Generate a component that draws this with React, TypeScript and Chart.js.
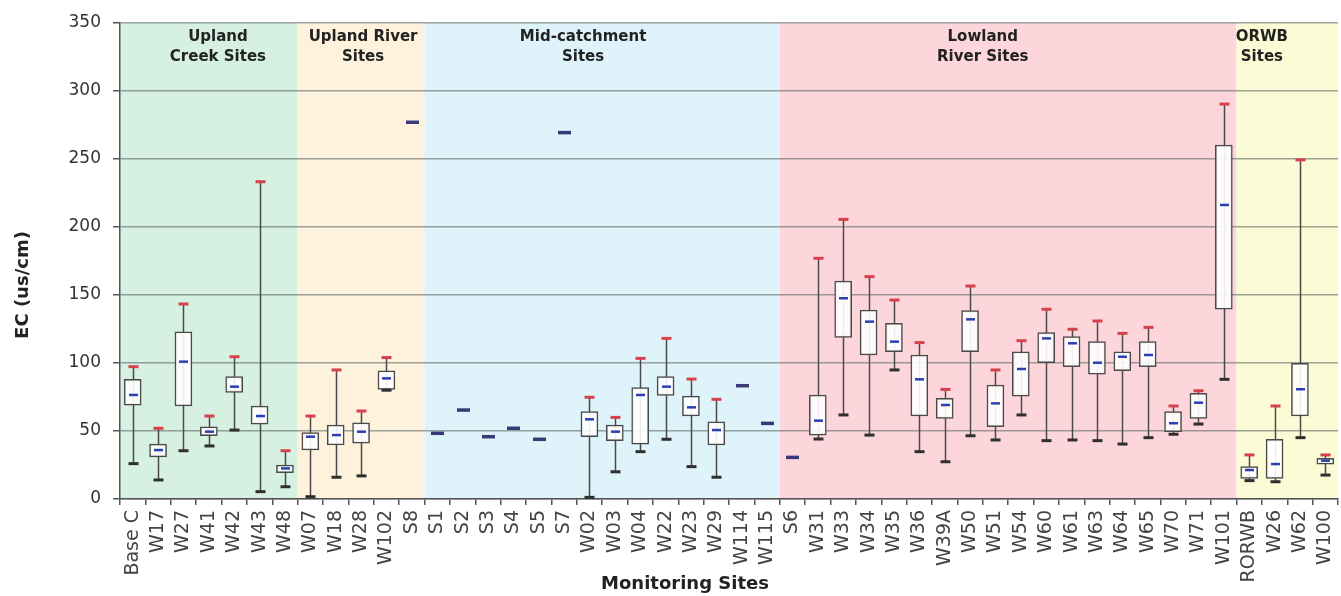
import React, { useEffect, useRef } from "react";
import { Chart, registerables } from "chart.js";
Chart.register(...registerables);

const sites = [
  "Base C", "W17", "W27", "W41", "W42", "W43", "W48",
  "W07", "W18", "W28", "W102", "S8",
  "S1", "S2", "S3", "S4", "S5", "S7", "W02", "W03", "W04", "W22", "W23", "W29", "W114", "W115",
  "S6", "W31", "W33", "W34", "W35", "W36", "W39A", "W50", "W51", "W54", "W60", "W61", "W63", "W64", "W65", "W70", "W71", "W101",
  "RORWB", "W26", "W62", "W100",
];

const groupNames = [
  ["Upland", "Creek Sites"],
  ["Upland River", "Sites"],
  ["Mid-catchment", "Sites"],
  ["Lowland", "River Sites"],
  ["ORWB", "Sites"],
];
const groupSizes = [7, 5, 14, 18, 4];

const minValues = [
  26, 14, 35.5, 39, 50.7, 5.4, 9,
  1.7, 16, 17, 80, 277,
  48.3, 65.4, 45.8, 52, 43.9, 269.4, 1.2, 20, 34.8, 43.9, 23.8, 16, 83.3, 55.6,
  30.6, 44.1, 61.8, 47, 94.9, 34.8, 27.4, 46.5, 43.4, 61.8, 42.9, 43.4, 42.9, 40.4, 45.1, 47.6, 55.1, 88,
  13.5, 12.7, 45.1, 17.6,
];
const q1Values = [
  69, 31, 68.4, 46.5, 78.4, 55, 19.4,
  36, 39.7, 41, 80.6, 277,
  48.3, 65.4, 45.8, 52, 43.9, 269.4, 45.8, 42.9, 40.4, 76.2, 61, 39.7, 83.3, 55.6,
  30.6, 47, 118.9, 105.9, 108.3, 61, 59.3, 108.3, 53.2, 75.7, 100.2, 97.3, 91.7, 94.3, 97.3, 49.5, 59.3, 139.5,
  15.2, 15.2, 61, 25.7,
];
const medianValues = [
  76.5, 36, 101, 49.5, 82.6, 61, 22.5,
  45.8, 47, 49.5, 88.7, 277,
  48.3, 65.4, 45.8, 52, 43.9, 269.4, 58.6, 49.5, 76.5, 82.6, 67.4, 50.7, 83.3, 55.6,
  30.6, 57.6, 147.6, 130.4, 115.7, 88, 69.1, 132.1, 70.3, 95.6, 118.1, 114.5, 100.2, 104.6, 105.9, 55.7, 70.8, 216.2,
  21.3, 25.7, 80.7, 28.2,
];
const q3Values = [
  88, 40.4, 123, 53, 90, 68.4, 25,
  48.8, 54.4, 56, 94.3, 277,
  48.3, 65.4, 45.8, 52, 43.9, 269.4, 64.2, 54.4, 82, 90, 75.7, 56.8, 83.3, 55.6,
  30.6, 76.5, 160.3, 139, 129.2, 105.9, 74, 138.5, 83.8, 108.3, 122.3, 119.4, 115.7, 108.3, 115.7, 64.2, 77.7, 260.3,
  23.8, 43.9, 99.8, 29.9,
];
const maxValues = [
  97.3, 52, 143.4, 61, 104.6, 233.3, 35.5,
  61, 94.9, 64.7, 104, 277,
  48.3, 65.4, 45.8, 52, 43.9, 269.4, 74.8, 60, 103.4, 118.1, 88.2, 73.3, 83.3, 55.6,
  30.6, 177, 205.6, 163.5, 146.3, 115, 80.6, 156.6, 94.9, 116.4, 139.5, 124.8, 130.9, 121.8, 126.2, 68.4, 79.6, 290.4,
  32.4, 68.4, 249.3, 32.4,
];

const yTicks = [0, 50, 100, 150, 200, 250, 300, 350];
const yTitle = "EC (us/cm)";
const xTitle = "Monitoring Sites";

// styling
const groupColors = ["#d6f0e1", "#fef2dc", "#dff3fa", "#fdd6dc", "#fbfbd6"];
const groupLabelAt = [3.36, 9.08, 17.75, 33.5, 44.5];
const FONT = "'DejaVu Sans', Verdana, sans-serif";

const boxPlugin = {
  id: "boxExtras",
  beforeDraw(chart: any) {
    const { ctx, chartArea, scales } = chart;
    const x = scales.x;
    let start = 0;
    ctx.save();
    groupSizes.forEach((n: number, gi: number) => {
      const end = start + n - 1;
      const left = gi === 0 ? chartArea.left : (x.getPixelForValue(start - 1) + x.getPixelForValue(start)) / 2;
      const right = gi === groupSizes.length - 1 ? chartArea.right : (x.getPixelForValue(end) + x.getPixelForValue(end + 1)) / 2;
      ctx.fillStyle = groupColors[gi];
      ctx.fillRect(left, chartArea.top, right - left, chartArea.bottom - chartArea.top);
      start += n;
    });
    ctx.restore();
  },
  beforeDatasetsDraw(chart: any) {
    const { ctx, scales } = chart;
    const x = scales.x, y = scales.y;
    ctx.save();
    ctx.strokeStyle = "#4a4a4a";
    ctx.lineWidth = 1.5;
    sites.forEach((_s: string, i: number) => {
      if (maxValues[i] === minValues[i]) return;
      const px = Math.round(x.getPixelForValue(i)) + 0.5;
      ctx.beginPath();
      ctx.moveTo(px, y.getPixelForValue(minValues[i]));
      ctx.lineTo(px, y.getPixelForValue(maxValues[i]));
      ctx.stroke();
    });
    ctx.restore();
  },
  afterDatasetsDraw(chart: any) {
    const { ctx, scales } = chart;
    const x = scales.x, y = scales.y;
    ctx.save();
    ctx.lineCap = "butt";
    sites.forEach((_s: string, i: number) => {
      const px = Math.round(x.getPixelForValue(i)) + 0.5;
      const hl = (v: number, w: number, color: string, lw: number) => {
        const py = y.getPixelForValue(v);
        ctx.strokeStyle = color;
        ctx.lineWidth = lw;
        ctx.beginPath();
        ctx.moveTo(px - w / 2, py);
        ctx.lineTo(px + w / 2, py);
        ctx.stroke();
      };
      if (maxValues[i] === minValues[i]) {
        hl(medianValues[i], 13, "#383a78", 3.5);
        return;
      }
      hl(minValues[i], 10, "#2f2f2f", 3);
      hl(maxValues[i], 10, "#d8404e", 3);
      hl(medianValues[i], 9, "#2c3fb0", 2.5);
    });
    ctx.restore();
  },
  afterDraw(chart: any) {
    const { ctx, chartArea, scales } = chart;
    const x = scales.x;
    ctx.save();
    ctx.fillStyle = "#222";
    ctx.textAlign = "center";
    ctx.textBaseline = "middle";
    ctx.font = `bold 15px ${FONT}`;
    groupNames.forEach((lines: string[], gi: number) => {
      const pos = groupLabelAt[gi];
      const i0 = Math.floor(pos);
      const frac = pos - i0;
      const cx = x.getPixelForValue(i0) + frac * (x.getPixelForValue(i0 + 1) - x.getPixelForValue(i0));
      lines.forEach((t: string, li: number) => {
        ctx.fillText(t, cx, chartArea.top + 14 + li * 20);
      });
    });
    ctx.font = `bold 18px ${FONT}`;
    ctx.fillStyle = "#222";
    ctx.fillText(xTitle, (chartArea.left + chartArea.right) / 2 - 44, 584);
    ctx.translate(23, (chartArea.top + chartArea.bottom) / 2 + 24);
    ctx.rotate(-Math.PI / 2);
    ctx.fillText(yTitle, 0, 0);
    ctx.restore();
  },
};

export default function App() {
  const ref = useRef<HTMLCanvasElement | null>(null);
  useEffect(() => {
    if (!ref.current) return;
    const boxData = sites.map((_s, i) =>
      q3Values[i] > q1Values[i] ? [q1Values[i], q3Values[i]] : null
    );
    const chart = new Chart(ref.current, {
      type: "bar",
      data: {
        labels: sites,
        datasets: [
          {
            data: boxData as any,
            backgroundColor: "rgba(255,255,255,0.9)",
            borderColor: "#4a4a4a",
            borderWidth: 1.5,
            borderSkipped: false,
            barThickness: 17,
          },
        ],
      },
      options: {
        responsive: false,
        animation: false,
        events: [],
        layout: { padding: { top: 23, right: 3, left: 0, bottom: 0 } },
        plugins: { legend: { display: false }, tooltip: { enabled: false } },
        scales: {
          x: {
            offset: true,
            grid: {
              offset: true,
              drawOnChartArea: false,
              drawTicks: true,
              tickLength: 6,
              color: "#555",
              lineWidth: 1.5,
            },
            border: { display: true, color: "#555", width: 1.5 },
            ticks: {
              autoSkip: false,
              maxRotation: 90,
              minRotation: 90,
              padding: 5,
              color: "#444",
              font: { family: FONT, size: 19 },
            },
            afterFit: (s: any) => {
              s.height = 97;
              s.paddingLeft = 0;
              s.paddingRight = 0;
            },
          },
          y: {
            min: 0,
            max: 350,
            afterBuildTicks: (s: any) => { s.ticks = yTicks.map((v) => ({ value: v })); },
            grid: {
              color: "rgba(95,105,100,0.6)",
              lineWidth: 1.5,
              tickLength: 7,
              tickColor: "#555",
            },
            border: { display: true, color: "#555", width: 1.5 },
            ticks: {
              padding: 12,
              color: "#333",
              font: { family: FONT, size: 17 },
            },
            afterFit: (s: any) => {
              s.width = 120;
              s.paddingTop = 0;
              s.paddingBottom = 0;
            },
          },
        },
      },
      plugins: [boxPlugin],
    });
    return () => chart.destroy();
  }, []);
  return (
    <div style={{ position: "absolute", left: 0, top: 0, width: 1341, height: 596, background: "#fff" }}>
      <canvas ref={ref} width={1341} height={596} style={{ display: "block" }} />
    </div>
  );
}
